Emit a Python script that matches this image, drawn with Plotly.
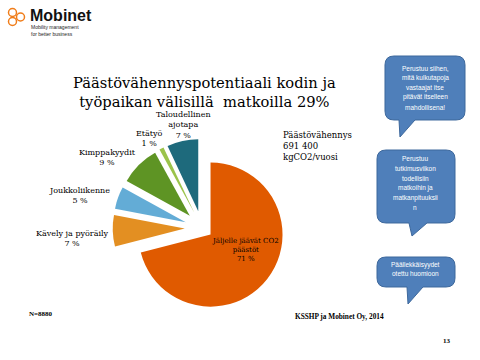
import plotly.graph_objects as go

W, H = 480, 360

# ---- data ----
categories = ["Jäljelle jäävät CO2<br>päästöt", "Kävely ja pyöräily", "Joukkoliikenne",
              "Kimppakyydit", "Etätyö", "Taloudellinen<br>ajotapa"]
values = [71, 7, 5, 9, 1, 7]
colors = ["#E05A00", "#E38F22", "#63ACD6", "#5E9424", "#9BC34B", "#1E6A7C"]
pulls = [0.15, 0.24, 0.24, 0.24, 0.24, 0.24]

# label anchor positions (pixels)
label_pos = [(246, 250), (72, 238), (79, 195), (107, 157), (149, 138), (183, 125)]
label_sizes = [7, 8, 8, 8, 8, 8]

bubble_texts = [
    ["Perustuu siihen,", "mitä kulkutapoja", "vastaajat itse", "pitävät itselleen", "mahdollisena!"],
    ["Perustuu", "tutkimusviikon", "todellisiin", "matkoihin ja", "matkanpituuksii", "n"],
    ["Päällekkäisyydet", "otettu huomioon"],
]


def px(x):
    return x / W


def py(y):
    return 1 - y / H


cx, cy, R = 202, 228, 72
half = R * (1 + max(pulls))

fig = go.Figure(go.Pie(
    labels=categories, values=values, sort=False, direction="clockwise", rotation=0,
    marker=dict(colors=colors, line=dict(width=0)), pull=pulls,
    textinfo="none", hoverinfo="skip", showlegend=False,
    domain=dict(x=[px(cx - half), px(cx + half)], y=[py(cy + half), py(cy - half)]),
))

ann = []


def txt(x, y, text, size, family="DejaVu Serif", color="#000", xanchor="center", align="center"):
    ann.append(dict(x=px(x), y=py(y), xref="paper", yref="paper", showarrow=False,
                    xanchor=xanchor, yanchor="middle", text=text, align=align,
                    font=dict(family=family, size=size, color=color)))


total = sum(values)
for cat, v, (lx, ly), s in zip(categories, values, label_pos, label_sizes):
    txt(lx, ly, f"{cat}<br>{round(100 * v / total)} %", s)

# title
txt(204, 92, "Päästövähennyspotentiaali kodin ja<br>työpaikan välisillä  matkoilla 29%", 14.7)
txt(281, 146, "Päästövähennys<br>691 400<br>kgCO2/vuosi", 8.5, xanchor="left", align="left")
txt(27, 314, "<b>N=8880</b>", 7, family="Liberation Serif", xanchor="left")
txt(293, 316, "<b>KSSHP ja Mobinet Oy, 2014</b>", 7.3, family="Liberation Serif", xanchor="left")
txt(447, 341, "<b>13</b>", 7, family="Liberation Serif")

# logo
txt(28, 16, "<b>Mobinet</b>", 16, family="Liberation Sans", color="#111", xanchor="left")
txt(29, 30.5, "Mobility management<br>for better business", 5, family="Liberation Sans",
    color="#222", xanchor="left", align="left")

shapes = []
for (ccx, ccy) in [(12.5, 12.5), (12.5, 21.5), (20.5, 17)]:
    shapes.append(dict(type="circle", xref="paper", yref="paper",
                       x0=px(ccx - 4), x1=px(ccx + 4), y0=py(ccy + 4), y1=py(ccy - 4),
                       line=dict(color="#F07D1A", width=1.5), fillcolor="rgba(0,0,0,0)"))


def bubble(x0, y0, x1, y1, ta, tb, tip, r=9):
    def P(x, y):
        return f"{px(x):.5f},{py(y):.5f}"
    d = (f"M {P(x0 + r, y0)} L {P(x1 - r, y0)} Q {P(x1, y0)} {P(x1, y0 + r)} "
         f"L {P(x1, y1 - r)} Q {P(x1, y1)} {P(x1 - r, y1)} L {P(tb, y1)} L {P(*tip)} L {P(ta, y1)} "
         f"L {P(x0 + r, y1)} Q {P(x0, y1)} {P(x0, y1 - r)} L {P(x0, y0 + r)} Q {P(x0, y0)} {P(x0 + r, y0)} Z")
    return dict(type="path", path=d, xref="paper", yref="paper",
                fillcolor="#4F7FBA", line=dict(color="#3D689C", width=1))


shapes.append(bubble(385, 56, 465, 120, 399, 415, (400, 137)))
shapes.append(bubble(377, 150, 455, 223, 409, 427, (412, 236)))
shapes.append(bubble(377, 257, 455, 287, 407, 423, (408, 304)))

bubble_layout = [(425, 68, 9.8), (415, 158, 10), (415, 265, 8.5)]
for lines, (bx, by, dy) in zip(bubble_texts, bubble_layout):
    for i, t in enumerate(lines):
        txt(bx, by + i * dy, t, 6.5, family="Liberation Sans", color="white")

fig.update_layout(width=W, height=H, margin=dict(l=0, r=0, t=0, b=0),
                  paper_bgcolor="white", plot_bgcolor="white",
                  annotations=ann, shapes=shapes)
fig.write_html("out.html", config={"displayModeBar": False},
               post_script="document.body.style.margin='0px';")
